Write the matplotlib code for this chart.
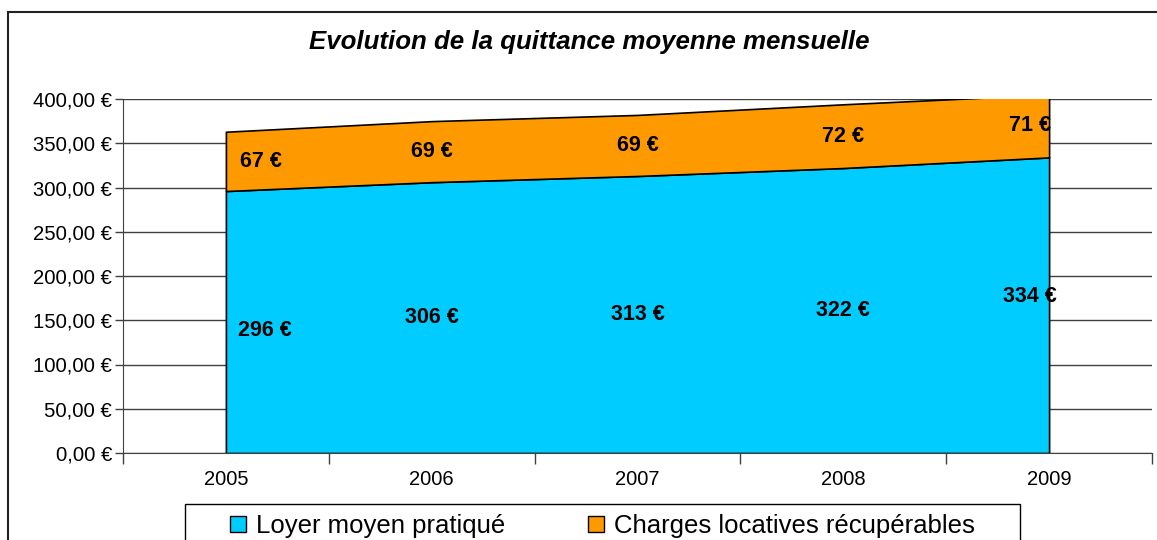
import matplotlib.pyplot as plt
import matplotlib.patches as mpatches
import numpy as np

plt.rcParams['font.family'] = ['Liberation Sans', 'DejaVu Sans']

# Données
annees = ["2005", "2006", "2007", "2008", "2009"]
loyer = [296, 306, 313, 322, 334]
charges = [67, 69, 69, 72, 71]
yticks = [0, 50, 100, 150, 200, 250, 300, 350, 400]

couleur_loyer = "#00CCFF"
couleur_charges = "#FF9900"

x = np.arange(len(annees))
loyer = np.array(loyer)
charges = np.array(charges)
total = loyer + charges

fig = plt.figure(figsize=(11.57, 5.4), dpi=100)
W, H = 1157, 540
ax = fig.add_axes([123 / W, 1 - 453 / H, (1152 - 123) / W, (453 - 99) / H])

# Aires empilées
ax.fill_between(x, 0, loyer, facecolor=couleur_loyer, edgecolor="black", linewidth=1.2, zorder=2)
ax.fill_between(x, loyer, total, facecolor=couleur_charges, edgecolor="black", linewidth=1.2, zorder=2)

ax.set_xlim(-0.5, len(annees) - 0.5)
ax.set_ylim(0, 400)

# Grille et axes
ax.set_yticks(yticks)
ax.set_yticklabels([f"{v:.2f}".replace(".", ",") + " €" for v in yticks], fontsize=14.6)
ax.yaxis.grid(True, color="#404040", linewidth=1, zorder=0)
ax.tick_params(axis="y", length=6, width=1, color="#404040", pad=2)
ax.set_xticks(np.arange(-0.5, len(annees), 1.0))
ax.set_xticklabels([])
ax.set_xticks(x, minor=True)
ax.set_xticklabels(annees, minor=True, fontsize=14.5)
ax.tick_params(axis="x", which="major", length=8, width=1, color="#404040")
ax.tick_params(axis="x", which="minor", length=0, pad=12)
for s in ["top", "right"]:
    ax.spines[s].set_visible(False)
ax.spines["left"].set_color("#404040")
ax.spines["bottom"].set_color("#404040")
ax.set_axisbelow(True)

# Étiquettes de valeurs (décalages en points)
for i in x:
    dx, dy = 0, 0
    if i == 0:
        dx, dy = 28, -6
    elif i == len(annees) - 1:
        dx, dy = -14, 6
    ax.annotate(f"{loyer[i]} €", (i, loyer[i] / 2), xytext=(dx, dy), textcoords="offset points",
                ha="center", va="center", fontsize=15.5, fontweight="bold", zorder=3)
    ax.annotate(f"{charges[i]} €", (i, loyer[i] + charges[i] / 2), xytext=(dx - (3 if i == 0 else 0), 0),
                textcoords="offset points", ha="center", va="center", fontsize=15.5, fontweight="bold",
                zorder=3, annotation_clip=False)

# Titre
fig.text(589 / W, 1 - 42 / H, "Evolution de la quittance moyenne mensuelle", ha="center", va="center",
         fontsize=18.6, fontweight="bold", fontstyle="italic")

# Cadre du graphique
fig.patches.append(mpatches.Rectangle((8 / W, -0.1), 1.2, 1 - 12 / H + 0.1, transform=fig.transFigure,
                                      fill=False, edgecolor="#222222", linewidth=1.5))

# Légende
fig.patches.append(mpatches.Rectangle((185 / W, -0.1), (1020 - 185) / W, 1 - 504 / H + 0.1,
                                      transform=fig.transFigure, fill=False, edgecolor="black", linewidth=1))
handles = [mpatches.Patch(facecolor=couleur_loyer, edgecolor="black", label="Loyer moyen pratiqué"),
           mpatches.Patch(facecolor=couleur_charges, edgecolor="black", label="Charges locatives récupérables")]
leg = fig.legend(handles=handles, loc="center left", bbox_to_anchor=(230 / W, 1 - 526 / H), ncol=2,
                 fontsize=18.5, frameon=False, handlelength=0.62, handleheight=0.62,
                 handletextpad=0.4, columnspacing=3.2, borderpad=0, borderaxespad=0)

fig.savefig("out.png", dpi=100)
